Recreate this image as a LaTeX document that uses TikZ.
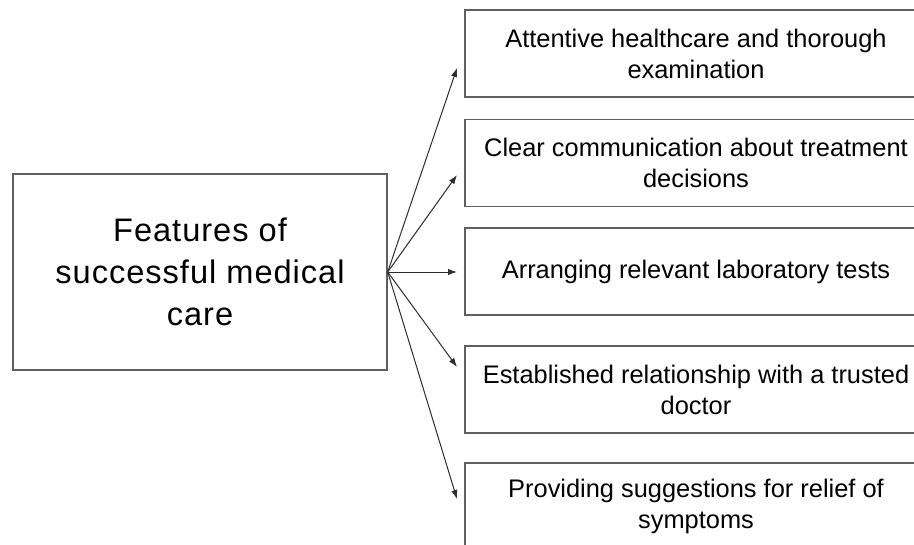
\documentclass[tikz,border=0pt]{standalone}
\usepackage{fontspec}
\setmainfont{Liberation Sans}
\newfontfamily\headfont[LetterSpace=3]{Liberation Sans}
\usetikzlibrary{arrows.meta, positioning}
\definecolor{boxgray}{RGB}{95, 95, 95}
\definecolor{arrowcolor}{RGB}{45, 45, 45}
\tikzset{
    mainbox/.style={
        rectangle,
        minimum width=187pt,
        minimum height=98pt,
        inner sep=0pt,
        align=center,
        draw=boxgray,
        line width=0.7pt,
        font=\headfont\fontsize{16.3}{21}\selectfont
    },
    featurebox/.style={
        rectangle,
        minimum width=231pt,
        minimum height=43.5pt,
        inner sep=0pt,
        align=center,
        draw=boxgray,
        line width=0.7pt,
        font=\fontsize{12.7}{15.5}\selectfont
    },
    arrow/.style={
        line width=0.5pt,
        -{Latex[length=4.5pt, width=3.2pt]},
        color=arrowcolor
    }
}

\begin{document}
\begin{tikzpicture}[x=0.5pt, y=-0.5pt]
    \clip (0,0) rectangle (914,545);

    % Main topic on the left
    \node (features) [mainbox] at (200,272) {Features of\\successful medical\\care};

    % Feature boxes on the right
    \node (attentive) [featurebox] at (696,53.5) {Attentive healthcare and thorough\\examination};
    \node (clear) [featurebox] at (696,163) {Clear communication about treatment\\decisions};
    \node (tests) [featurebox] at (696,271.5) {Arranging relevant laboratory tests};
    \node (trusted) [featurebox] at (696,389.5) {Established relationship with a trusted\\doctor};
    \node (relief) [featurebox] at (696,506.5) {Providing suggestions for relief of\\symptoms};

    % Arrow ends just short of each box
    \coordinate (tipA) at (457,68);
    \coordinate (tipB) at (457,175);
    \coordinate (tipC) at (457,272);
    \coordinate (tipD) at (457,367);
    \coordinate (tipE) at (457,499);

    % Draw arrows
    \draw [arrow] (features.east) -- (tipA);
    \draw [arrow] (features.east) -- (tipB);
    \draw [arrow] (features.east) -- (tipC);
    \draw [arrow] (features.east) -- (tipD);
    \draw [arrow] (features.east) -- (tipE);

\end{tikzpicture}
\end{document}
